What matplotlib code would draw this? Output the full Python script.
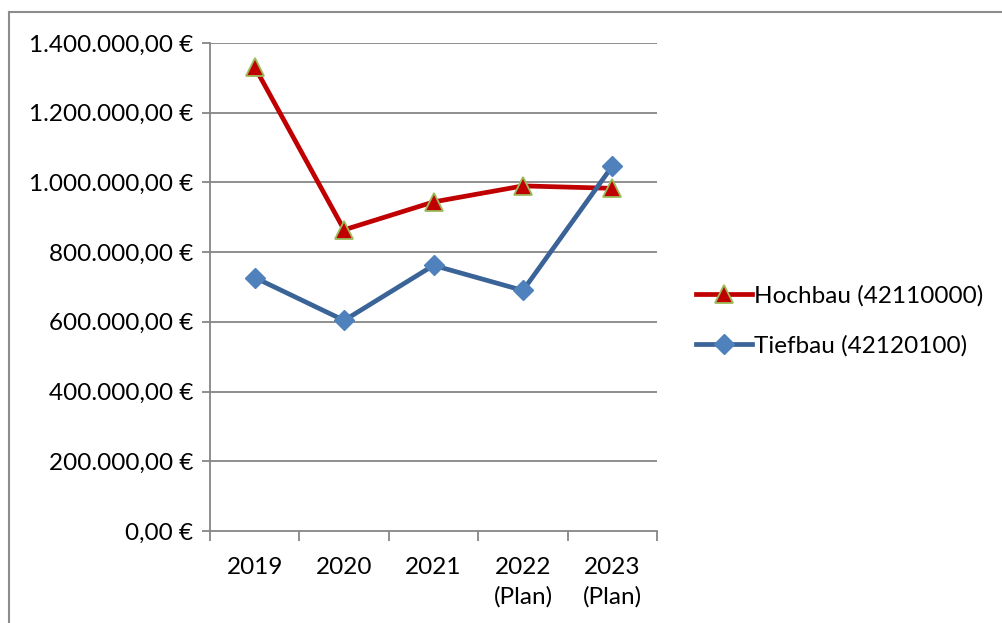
import matplotlib
matplotlib.use("Agg")
import matplotlib.pyplot as plt
from matplotlib.lines import Line2D

categories = ["2019", "2020", "2021", "2022\n(Plan)", "2023\n(Plan)"]
hochbau = [1331000, 864000, 944000, 990000, 983000]
tiefbau = [727000, 604000, 762000, 690000, 1047000]
yticks = [0, 200000, 400000, 600000, 800000, 1000000, 1200000, 1400000]

def fmt(v):
    s = f"{v:,.2f}"
    s = s.replace(",", "X").replace(".", ",").replace("X", ".")
    return s + " €"

plt.rcParams['font.family'] = ['Lato', 'DejaVu Sans']
fs = 17.5
fig = plt.figure(figsize=(10.03, 6.23), dpi=100)
ax = fig.add_axes([0.2094, 0.1477, 0.4457, 0.7833])

x = list(range(len(categories)))
grid_c = "#868686"
ax.set_ylim(0, 1400000)
ax.set_xlim(-0.5, len(categories) - 0.5)
ax.set_yticks(yticks)
ax.set_yticklabels([fmt(v) for v in yticks], fontsize=fs)
for v in yticks[1:]:
    ax.axhline(v, color=grid_c, lw=1.3, zorder=1)

l1, = ax.plot(x, hochbau, color="#C00000", lw=3.4, marker="^", markersize=13,
              markerfacecolor="#C00000", markeredgecolor="#9BBB59", markeredgewidth=1.3,
              zorder=3, label="Hochbau (42110000)")
l2, = ax.plot(x, tiefbau, color="#3A6497", lw=3.4, marker="D", markersize=10.5,
              markerfacecolor="#4F81BD", markeredgecolor="#4F81BD",
              zorder=4, label="Tiefbau (42120100)")

ax.set_xticks(x)
ax.set_xticklabels(categories, fontsize=fs, linespacing=1.45)
ax.tick_params(axis="x", which="major", length=0, pad=19)
ax.set_xticks([i - 0.5 for i in range(len(categories) + 1)], minor=True)
ax.tick_params(axis="x", which="minor", length=7, color=grid_c, width=1.3, direction="out")
ax.tick_params(axis="y", length=6, color=grid_c, width=1.3, direction="out", pad=6)

for s in ["top", "right"]:
    ax.spines[s].set_visible(False)
for s in ["left", "bottom"]:
    ax.spines[s].set_color(grid_c)
    ax.spines[s].set_linewidth(1.3)

leg = fig.legend(handles=[l1, l2], loc="center left", bbox_to_anchor=(0.694, 0.485),
                 frameon=False, fontsize=fs, handlelength=2.3, handletextpad=0.1,
                 labelspacing=1.15, borderaxespad=0, borderpad=0)

# outer chart frame
fig.add_artist(Line2D([0.0085, 0.0085], [0, 0.981], color="#8C8C8C", lw=1.5, transform=fig.transFigure))
fig.add_artist(Line2D([0.0085, 1.0], [0.981, 0.981], color="#8C8C8C", lw=1.5, transform=fig.transFigure))

fig.savefig("out.png", dpi=100)
